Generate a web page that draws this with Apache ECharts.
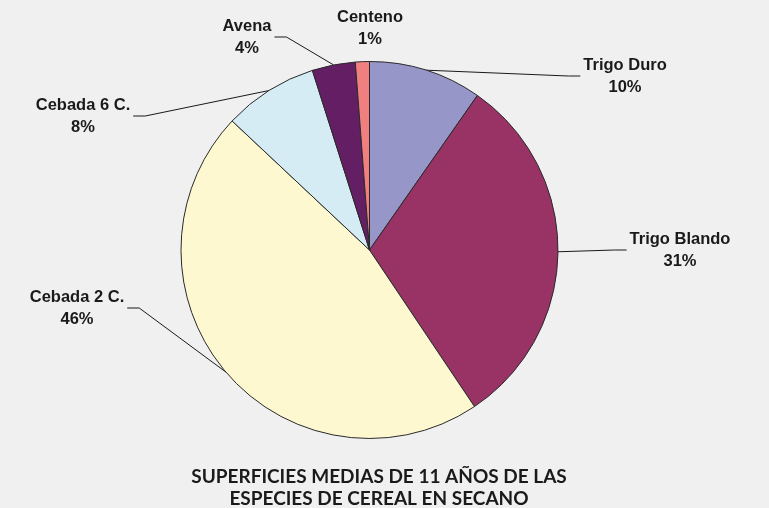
<!DOCTYPE html>
<html>
<head>
<meta charset="utf-8">
<style>
  html, body { margin: 0; padding: 0; background: #f0f0f0; }
  #chart { width: 769px; height: 508px; }
</style>
<script src="https://cdn.jsdelivr.net/npm/echarts@6/dist/echarts.min.js"></script>
</head>
<body>
<div id="chart"></div>
<script>
// data
const categories = ["Trigo Duro", "Trigo Blando", "Cebada 2 C.", "Cebada 6 C.", "Avena", "Centeno"];
const shares = [9.7, 30.9, 46.4, 8.1, 3.7, 1.2];
const colors = ["#9696c8", "#993366", "#fdf8d0", "#d6ecf4", "#641e64", "#f08080"];

// where each label sits (centre of the text block) and which side the leader line enters
const labelPos = [
  { x: 625, y: 76, side: "left" },
  { x: 680, y: 250, side: "left" },
  { x: 77, y: 308, side: "right" },
  { x: 83, y: 116, side: "right" },
  { x: 247, y: 37, side: "right" },
  { x: 370, y: 28, side: "none" },
];

const chart = echarts.init(document.getElementById("chart"));

chart.setOption({
  backgroundColor: "#f0f0f0",
  animation: false,
  title: {
    text: "SUPERFICIES MEDIAS DE 11 AÑOS DE LAS\nESPECIES DE CEREAL EN SECANO",
    left: 374,
    top: 461,
    textAlign: "center",
    textStyle: {
      fontFamily: "Lato",
      fontSize: 19,
      fontWeight: "bold",
      color: "#1a1a1a",
      lineHeight: 22,
    },
  },
  series: [
    {
      type: "pie",
      center: [369.5, 250],
      radius: 188.5,
      startAngle: 90,
      clockwise: true,
      avoidLabelOverlap: false,
      itemStyle: {
        borderColor: "#2a2a2a",
        borderWidth: 1,
      },
      label: {
        show: true,
        formatter: (p) => p.name + "\n" + Math.round(p.value) + "%",
        fontFamily: "Liberation Sans",
        fontWeight: "bold",
        fontSize: 16.5,
        lineHeight: 22,
        color: "#1a1a1a",
        align: "center",
      },
      labelLine: {
        show: true,
        length: 10,
        length2: 10,
        lineStyle: { color: "#1a1a1a", width: 1 },
      },
      labelLayout: function (params) {
        const p = labelPos[params.dataIndex];
        const res = { x: p.x, y: p.y, align: "center", verticalAlign: "middle" };
        if (p.side === "none" || !params.labelLinePoints) {
          res.labelLinePoints = [[p.x, p.y], [p.x, p.y], [p.x, p.y]];
          return res;
        }
        const half = params.labelRect.width / 2;
        const anchor = params.labelLinePoints[0];
        const endX = p.side === "left" ? p.x - half - 3 : p.x + half + 3;
        const bendX = p.side === "left" ? endX - 12 : endX + 12;
        res.labelLinePoints = [anchor, [bendX, p.y], [endX, p.y]];
        return res;
      },
      data: categories.map((name, i) => ({
        name: name,
        value: shares[i],
        itemStyle: { color: colors[i] },
        labelLine: { show: labelPos[i].side !== "none" },
      })),
    },
  ],
});
</script>
</body>
</html>
